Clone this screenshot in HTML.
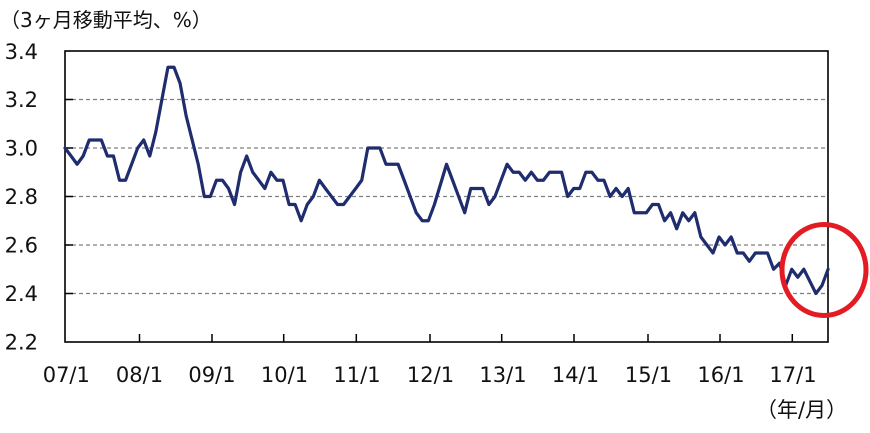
<!DOCTYPE html>
<html>
<head>
<meta charset="utf-8">
<style>
  html,body{margin:0;padding:0;background:#fff;}
  body{width:870px;height:433px;overflow:hidden;}
  svg{display:block;}
  .t{font-family:"DejaVu Sans","Liberation Sans","Noto Sans CJK JP",sans-serif;font-size:21px;fill:#111;}
  .j{font-family:"DejaVu Sans","Noto Sans CJK JP",sans-serif;font-size:20px;fill:#111;}
</style>
</head>
<body>
<svg width="870" height="433" viewBox="0 0 870 433" xmlns="http://www.w3.org/2000/svg">
  <rect x="0" y="0" width="870" height="433" fill="#fff"/>
  <!-- title -->
  <text class="j" x="0" y="27">（3ヶ月移動平均、%）</text>

  <!-- gridlines -->
  <g stroke="#7f7f7f" stroke-width="1.2" stroke-dasharray="4,3">
    <line x1="65" y1="99.5" x2="828" y2="99.5"/>
    <line x1="65" y1="148" x2="828" y2="148"/>
    <line x1="65" y1="196.5" x2="828" y2="196.5"/>
    <line x1="65" y1="245" x2="828" y2="245"/>
    <line x1="65" y1="293.5" x2="828" y2="293.5"/>
  </g>

  <!-- y tick marks -->
  <g stroke="#000" stroke-width="1.5">
    <line x1="65" y1="99.5" x2="73" y2="99.5"/>
    <line x1="65" y1="148" x2="73" y2="148"/>
    <line x1="65" y1="196.5" x2="73" y2="196.5"/>
    <line x1="65" y1="245" x2="73" y2="245"/>
    <line x1="65" y1="293.5" x2="73" y2="293.5"/>
  </g>
  <!-- x tick marks -->
  <g stroke="#000" stroke-width="1.5">
    <line x1="139.5" y1="334" x2="139.5" y2="342"/>
    <line x1="212" y1="334" x2="212" y2="342"/>
    <line x1="283.7" y1="334" x2="283.7" y2="342"/>
    <line x1="356.3" y1="334" x2="356.3" y2="342"/>
    <line x1="430" y1="334" x2="430" y2="342"/>
    <line x1="501.7" y1="334" x2="501.7" y2="342"/>
    <line x1="574" y1="334" x2="574" y2="342"/>
    <line x1="648" y1="334" x2="648" y2="342"/>
    <line x1="720" y1="334" x2="720" y2="342"/>
    <line x1="792.3" y1="334" x2="792.3" y2="342"/>
  </g>

  <!-- plot frame -->
  <rect x="65" y="51" width="763" height="291" fill="none" stroke="#000" stroke-width="1.6"/>

  <!-- data line -->
  <polyline fill="none" stroke="#1f2c6e" stroke-width="3.2" stroke-linejoin="round" stroke-linecap="round"
    vector-effect="non-scaling-stroke"
    transform="matrix(6.056 0 0 -242.5 65 875.5)"
    points="0,3.0 1,2.967 2,2.933 3,2.967 4,3.033 5,3.033 6,3.033 7,2.967 8,2.967 9,2.867 10,2.867 11,2.933 12,3.0 13,3.033 14,2.967 15,3.067 16,3.2 17,3.333 18,3.333 19,3.267 20,3.133 21,3.033 22,2.933 23,2.8 24,2.8 25,2.867 26,2.867 27,2.833 28,2.767 29,2.9 30,2.967 31,2.9 32,2.867 33,2.833 34,2.9 35,2.867 36,2.867 37,2.767 38,2.767 39,2.7 40,2.767 41,2.8 42,2.867 43,2.833 44,2.8 45,2.767 46,2.767 47,2.8 48,2.833 49,2.867 50,3.0 51,3.0 52,3.0 53,2.933 54,2.933 55,2.933 56,2.867 57,2.8 58,2.733 59,2.7 60,2.7 61,2.767 62,2.85 63,2.933 64,2.867 65,2.8 66,2.733 67,2.833 68,2.833 69,2.833 70,2.767 71,2.8 72,2.867 73,2.933 74,2.9 75,2.9 76,2.867 77,2.9 78,2.867 79,2.867 80,2.9 81,2.9 82,2.9 83,2.8 84,2.833 85,2.833 86,2.9 87,2.9 88,2.867 89,2.867 90,2.8 91,2.833 92,2.8 93,2.833 94,2.733 95,2.733 96,2.733 97,2.767 98,2.767 99,2.7 100,2.733 101,2.667 102,2.733 103,2.7 104,2.733 105,2.633 106,2.6 107,2.567 108,2.633 109,2.6 110,2.633 111,2.567 112,2.567 113,2.533 114,2.567 115,2.567 116,2.567 117,2.5 118,2.525 119,2.433 120,2.5 121,2.467 122,2.5 123,2.45 124,2.4 125,2.433 126,2.5"/>

  <!-- y labels -->
  <g class="t" text-anchor="end">
    <text x="38" y="59">3.4</text>
    <text x="38" y="107.2">3.2</text>
    <text x="38" y="155.7">3.0</text>
    <text x="38" y="204.2">2.8</text>
    <text x="38" y="252.7">2.6</text>
    <text x="38" y="301.2">2.4</text>
    <text x="38" y="349.7">2.2</text>
  </g>

  <!-- x labels -->
  <g class="t" text-anchor="middle">
    <text x="66.3" y="382">07/1</text>
    <text x="139.5" y="382">08/1</text>
    <text x="212" y="382">09/1</text>
    <text x="284.5" y="382">10/1</text>
    <text x="357" y="382">11/1</text>
    <text x="430.5" y="382">12/1</text>
    <text x="503" y="382">13/1</text>
    <text x="575.5" y="382">14/1</text>
    <text x="648.5" y="382">15/1</text>
    <text x="721" y="382">16/1</text>
    <text x="793" y="382">17/1</text>
  </g>

  <!-- unit label -->
  <text class="j" x="756" y="417" style="font-size:21px">（年/月）</text>

  <!-- red circle -->
  <ellipse cx="824" cy="270" rx="42" ry="45.5" fill="none" stroke="#e31b23" stroke-width="5"/>
</svg>
</body>
</html>
